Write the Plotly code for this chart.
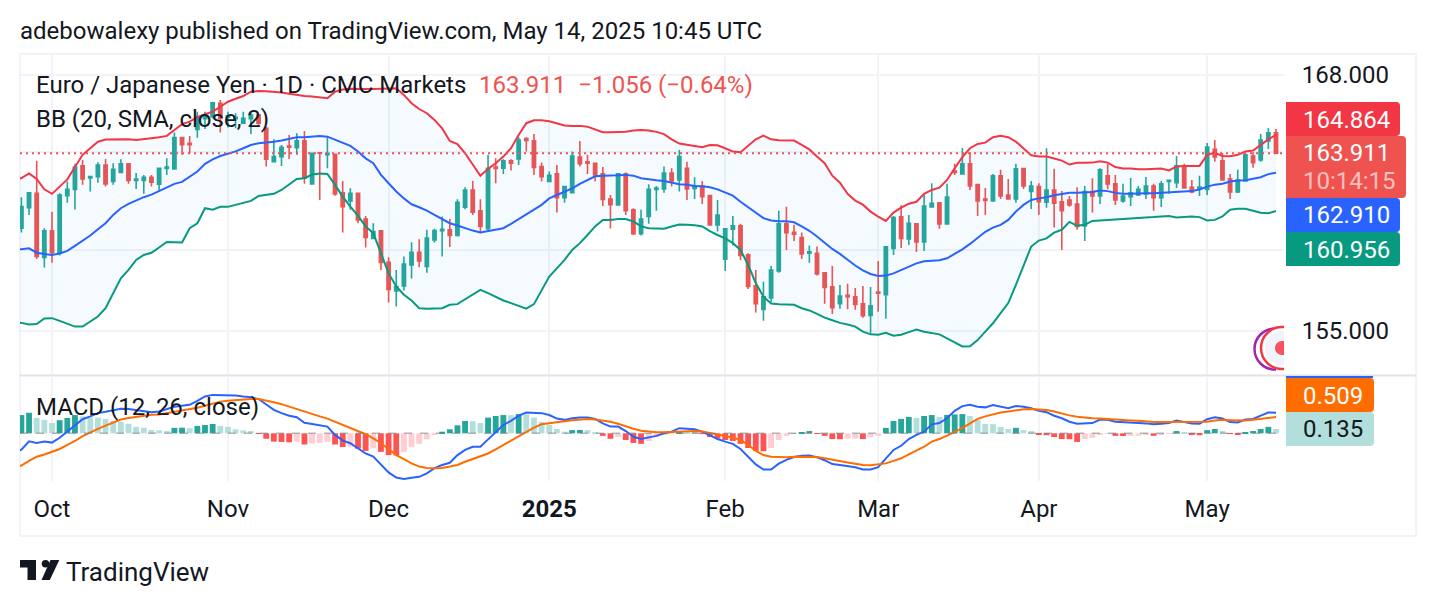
import math
import pandas as pd
import plotly.graph_objects as go

# EUR/JPY daily session dates (markets closed on 25 December)
dates = [d.strftime("%Y-%m-%d") for d in pd.bdate_range("2024-09-24", "2025-05-14") if d.strftime("%m-%d") != "12-25"]

opens = [159.60,160.09,161.13,161.86,158.62,159.96,158.83,161.74,162.06,163.26,
162.64,162.71,163.30,162.46,162.92,163.37,162.52,162.51,162.68,162.32,
163.13,163.11,164.72,164.43,165.15,165.71,165.81,166.51,165.78,165.71,
165.47,165.71,165.90,165.21,163.48,163.74,164.29,164.20,164.55,162.34,
163.94,163.84,163.86,161.89,161.47,161.86,160.55,159.58,159.96,158.38,
156.96,157.21,158.25,158.88,158.17,159.50,159.97,160.01,159.72,161.15,
162.03,160.97,160.06,163.20,163.14,163.52,163.62,164.67,164.55,163.23,
162.46,162.85,161.64,161.89,163.71,163.47,163.40,162.85,161.57,161.27,
162.85,161.02,159.81,160.68,162.06,162.08,162.89,162.54,163.14,162.10,
162.23,161.74,160.26,158.53,160.04,160.21,158.75,157.21,156.05,156.62,
157.95,160.31,159.89,159.62,158.83,158.83,157.86,157.16,156.33,156.75,
156.67,156.33,155.75,156.91,156.78,159.07,160.66,159.55,160.31,159.40,
161.16,161.37,160.31,163.00,162.85,163.37,162.30,161.57,161.47,162.75,
161.77,161.57,163.13,161.95,162.20,161.40,162.03,161.43,161.52,161.31,
160.21,161.95,161.72,162.75,162.34,161.47,161.69,161.77,161.83,162.23,
161.64,162.46,162.40,163.23,162.17,162.10,162.06,164.11,163.52,162.59,
161.93,162.49,163.77,163.57,164.55,164.967]

highs = [160.20,161.66,161.93,163.52,160.09,160.92,161.86,162.46,163.37,163.57,
162.76,163.45,163.62,163.40,163.60,163.40,162.89,162.80,162.80,163.18,
163.65,164.98,164.77,164.81,166.07,166.07,166.59,166.68,166.07,165.99,
166.07,165.99,165.94,165.29,164.63,164.34,164.86,164.95,165.07,163.94,
163.94,164.74,163.86,162.49,162.11,161.89,160.71,160.34,159.96,158.63,
158.00,158.67,159.39,159.53,160.01,160.06,160.68,160.55,161.55,162.17,
162.49,161.55,163.83,163.65,163.60,163.60,164.74,164.74,164.91,163.43,
162.97,163.31,162.23,164.00,164.55,163.83,163.40,163.20,161.77,162.89,
162.92,161.10,161.02,162.32,162.23,163.23,163.14,164.08,163.47,162.68,
162.49,161.77,161.52,160.09,160.71,160.31,158.83,158.00,157.42,158.20,
160.97,161.17,160.26,159.87,159.22,159.17,157.88,158.20,157.26,157.31,
157.11,157.21,157.16,158.45,159.20,160.71,161.25,160.76,160.34,161.77,
162.37,161.38,162.34,163.37,164.18,163.98,162.34,162.13,162.85,163.06,
162.59,163.37,163.16,162.49,162.37,164.17,163.11,161.98,161.72,162.17,
162.23,162.63,163.14,163.37,162.80,162.34,162.64,162.23,162.69,162.34,
162.49,162.52,163.77,163.37,162.54,162.75,164.44,164.60,163.93,162.85,
163.06,163.88,163.98,164.91,165.22,165.17]

lows = [159.30,159.87,160.76,158.55,158.12,158.36,158.72,161.38,161.03,162.29,
161.95,162.40,162.20,162.29,162.89,162.34,162.08,161.83,162.20,161.95,
162.80,163.06,163.83,163.91,164.72,165.17,165.73,164.98,165.24,165.21,
165.44,164.91,165.29,163.23,163.48,163.26,163.62,163.83,162.35,162.30,
161.52,163.14,161.74,159.87,161.02,160.34,159.12,159.53,158.00,156.39,
156.19,156.98,157.58,158.14,157.86,159.37,158.67,159.14,159.67,161.05,
160.76,159.84,159.92,162.37,162.85,163.02,163.31,164.00,162.80,162.46,
162.46,160.88,161.38,161.86,163.23,162.85,162.46,161.21,160.08,161.23,
160.76,159.75,159.72,160.31,160.97,161.89,162.20,161.95,161.52,161.57,
161.31,160.21,159.92,157.95,159.22,158.50,157.06,155.90,155.50,156.41,
157.86,159.00,159.45,158.55,158.36,157.72,156.33,155.83,156.08,156.06,
156.03,155.64,154.88,155.93,155.59,158.75,159.10,159.25,158.90,158.95,
161.16,160.06,160.31,162.80,162.85,162.03,160.71,160.76,161.47,161.57,
161.57,161.38,162.08,161.06,160.76,161.13,160.13,159.00,161.18,160.01,
159.45,160.88,161.31,162.06,161.27,161.38,161.21,161.72,161.57,160.97,
161.16,161.83,162.13,162.13,161.86,161.72,161.77,163.47,162.54,161.57,
161.88,162.46,163.16,163.47,164.13,163.90]

closes = [160.00,161.18,161.89,158.67,159.96,158.86,161.77,162.06,163.20,162.59,
162.71,163.30,162.34,163.09,163.37,162.51,162.59,162.68,162.42,163.14,
163.20,164.72,164.36,164.36,165.81,165.81,166.54,165.73,165.85,165.78,
165.73,165.90,165.47,163.60,163.74,164.22,164.22,164.55,162.63,163.91,
163.91,163.91,161.83,161.18,161.86,160.51,159.62,159.92,158.38,157.04,
157.18,158.30,158.88,158.45,159.60,159.97,160.04,159.72,161.40,162.03,
160.90,160.18,163.14,163.13,163.52,163.40,164.60,164.58,163.18,162.71,
162.78,161.64,162.20,163.77,163.37,163.40,162.80,161.55,161.28,162.85,
160.98,159.81,160.55,162.06,162.13,162.89,162.49,163.74,162.08,162.23,
161.69,160.26,160.76,160.06,160.21,158.72,157.18,156.33,156.67,158.00,
160.31,159.87,159.79,158.80,158.90,157.80,157.13,156.14,156.71,156.68,
156.30,155.74,156.23,156.85,159.15,160.63,159.57,160.34,159.40,161.21,
161.35,160.31,161.67,162.92,163.37,162.23,161.47,161.50,162.75,161.72,
161.57,163.11,162.23,162.23,161.43,162.03,161.35,160.98,161.27,160.18,
161.95,161.72,163.06,162.34,161.52,161.72,161.89,162.06,162.23,161.64,
162.34,162.52,163.26,162.13,161.93,162.18,164.23,163.72,162.54,161.93,
162.54,163.83,163.42,164.60,164.97,163.911]

# Bollinger Bands (20, SMA, close, 2)
bb_upper = [162.50,162.64,162.87,162.59,162.06,161.83,162.20,162.57,163.20,163.83,
164.17,164.51,164.62,164.63,164.65,164.63,164.60,164.63,164.69,164.74,
164.81,165.12,165.42,165.55,165.78,165.94,166.07,166.33,166.59,166.75,
166.89,167.12,167.15,167.14,167.12,167.08,167.01,166.93,166.89,166.86,
166.80,166.77,167.12,167.24,167.28,167.26,167.26,167.26,167.28,167.30,
167.30,166.95,166.51,166.21,165.99,165.64,165.20,164.55,164.39,163.91,
163.31,162.75,163.11,163.40,163.74,164.17,164.86,165.47,165.62,165.62,
165.57,165.47,165.35,165.33,165.33,165.29,165.15,165.00,165.00,165.00,
165.02,165.09,165.12,165.09,165.02,164.90,164.63,164.41,164.34,164.29,
164.22,164.34,164.32,164.17,164.00,163.96,164.30,164.63,164.82,164.63,
164.58,164.57,164.57,164.34,164.11,163.74,163.40,162.76,162.40,161.83,
161.49,161.28,160.93,160.68,160.46,160.88,161.13,161.33,161.43,161.83,
162.03,162.15,162.54,163.14,163.71,164.17,164.39,164.46,164.74,164.81,
164.74,164.51,164.17,163.81,163.74,163.74,163.64,163.53,163.33,163.42,
163.42,163.43,163.50,163.43,163.20,163.13,163.13,163.09,163.09,163.11,
163.13,163.03,163.23,163.26,163.26,163.26,163.83,163.94,163.77,163.76,
163.83,164.00,164.05,164.34,164.63,164.864]

bb_middle = [159.02,159.03,159.08,158.86,158.80,158.75,158.82,158.95,159.20,159.45,
159.72,160.04,160.34,160.76,161.10,161.32,161.50,161.66,161.79,161.98,
162.17,162.34,162.44,162.71,162.97,163.37,163.60,163.77,163.89,164.01,
164.17,164.34,164.43,164.46,164.51,164.57,164.67,164.74,164.74,164.77,
164.81,164.77,164.60,164.46,164.29,164.00,163.65,163.40,162.80,162.37,
161.95,161.60,161.30,161.15,160.98,160.76,160.56,160.34,160.23,160.09,
159.97,159.87,159.94,160.01,160.09,160.31,160.56,160.82,161.03,161.27,
161.60,161.77,161.95,162.11,162.34,162.52,162.73,162.76,162.76,162.78,
162.80,162.76,162.63,162.57,162.52,162.49,162.40,162.32,162.29,162.23,
162.22,162.17,162.06,161.89,161.74,161.43,161.15,160.85,160.60,160.48,
160.44,160.44,160.39,160.18,159.96,159.67,159.34,159.05,158.80,158.50,
158.22,157.98,157.80,157.70,157.72,157.83,158.00,158.20,158.33,158.43,
158.47,158.48,158.58,158.80,159.03,159.30,159.62,159.91,160.12,160.26,
160.51,160.93,161.27,161.52,161.60,161.66,161.76,161.83,161.89,161.89,
161.91,161.93,162.00,161.97,161.88,161.84,161.84,161.86,161.86,161.86,
161.88,161.89,161.93,161.95,161.97,162.05,162.20,162.30,162.35,162.46,
162.51,162.52,162.59,162.68,162.84,162.910]

bb_lower = [155.41,155.39,155.31,155.33,155.61,155.62,155.49,155.33,155.21,155.21,
155.46,155.70,156.11,156.85,157.59,158.00,158.50,158.75,158.86,159.12,
159.40,159.39,159.37,160.09,160.34,161.10,161.03,161.17,161.17,161.27,
161.38,161.47,161.72,161.77,161.83,162.03,162.29,162.59,162.63,162.82,
162.87,162.85,162.29,161.69,161.18,160.71,160.18,159.84,158.83,157.83,
157.18,156.77,156.49,156.11,156.08,156.08,156.11,156.28,156.31,156.55,
156.80,157.01,156.85,156.65,156.49,156.36,156.22,156.09,156.31,157.01,
157.67,158.08,158.50,159.00,159.34,159.75,160.18,160.51,160.51,160.55,
160.55,160.43,160.18,160.09,160.06,160.06,160.18,160.28,160.26,160.24,
160.18,159.94,159.75,159.58,159.34,159.00,158.25,157.34,156.68,156.34,
156.31,156.31,156.28,156.11,156.00,155.83,155.65,155.52,155.39,155.31,
155.21,154.96,154.83,154.81,154.91,154.76,154.81,154.94,155.06,154.96,
154.88,154.83,154.63,154.42,154.24,154.25,154.55,154.96,155.37,155.87,
156.36,157.26,158.17,159.17,159.47,159.58,159.87,160.01,160.41,160.21,
160.26,160.46,160.48,160.51,160.53,160.56,160.58,160.61,160.63,160.65,
160.68,160.71,160.63,160.66,160.68,160.65,160.48,160.51,160.68,161.02,
161.07,161.07,160.98,160.87,160.85,160.956]

# MACD (12, 26, close)
macd_line = [-0.60,-0.51,-0.25,-0.30,-0.26,-0.29,-0.14,0.05,0.24,0.44,
0.53,0.63,0.67,0.71,0.77,0.76,0.73,0.68,0.66,0.68,
0.75,0.83,0.86,0.89,1.01,1.15,1.20,1.20,1.20,1.18,
1.15,1.13,1.07,0.89,0.73,0.63,0.55,0.50,0.33,0.29,
0.26,0.21,-0.05,-0.23,-0.31,-0.47,-0.63,-0.73,-0.99,-1.22,
-1.38,-1.43,-1.39,-1.36,-1.25,-1.09,-0.99,-0.92,-0.68,-0.52,
-0.42,-0.42,-0.19,0.05,0.26,0.39,0.55,0.65,0.65,0.63,
0.57,0.46,0.42,0.47,0.49,0.49,0.45,0.31,0.21,0.21,
0.07,-0.11,-0.18,-0.14,-0.08,0.00,0.05,0.16,0.14,0.13,
0.05,-0.07,-0.18,-0.26,-0.33,-0.49,-0.73,-0.97,-1.13,-1.13,
-0.95,-0.83,-0.74,-0.70,-0.69,-0.75,-0.84,-0.96,-0.99,-1.02,
-1.06,-1.13,-1.13,-1.06,-0.78,-0.52,-0.39,-0.18,-0.05,0.05,
0.28,0.32,0.47,0.70,0.85,0.89,0.83,0.81,0.88,0.83,
0.78,0.85,0.83,0.78,0.70,0.66,0.55,0.47,0.36,0.30,
0.30,0.32,0.43,0.42,0.36,0.34,0.33,0.32,0.31,0.28,
0.30,0.32,0.40,0.35,0.31,0.30,0.44,0.50,0.46,0.35,
0.34,0.43,0.45,0.55,0.65,0.644]

macd_signal = [-1.05,-1.01,-0.86,-0.73,-0.66,-0.58,-0.49,-0.36,-0.24,-0.09,
0.03,0.14,0.24,0.33,0.43,0.48,0.52,0.56,0.58,0.59,
0.63,0.68,0.72,0.74,0.80,0.86,0.93,0.99,1.02,1.04,
1.06,1.07,1.07,1.03,0.97,0.91,0.83,0.75,0.68,0.59,
0.53,0.46,0.36,0.26,0.18,0.07,-0.03,-0.16,-0.31,-0.49,
-0.68,-0.81,-0.94,-1.04,-1.08,-1.09,-1.08,-1.04,-0.99,-0.89,
-0.80,-0.73,-0.63,-0.50,-0.36,-0.23,-0.10,0.05,0.18,0.28,
0.32,0.35,0.38,0.41,0.43,0.45,0.43,0.40,0.36,0.30,
0.21,0.14,0.08,0.05,0.03,0.03,0.04,0.06,0.07,0.07,
0.06,0.01,-0.03,-0.07,-0.13,-0.21,-0.36,-0.55,-0.68,-0.73,
-0.74,-0.75,-0.73,-0.73,-0.72,-0.74,-0.78,-0.83,-0.88,-0.91,
-0.95,-0.99,-1.00,-0.97,-0.94,-0.86,-0.78,-0.66,-0.55,-0.42,
-0.26,-0.18,-0.07,0.04,0.16,0.31,0.45,0.53,0.59,0.65,
0.68,0.72,0.75,0.76,0.75,0.73,0.68,0.61,0.56,0.52,
0.49,0.47,0.46,0.44,0.43,0.41,0.40,0.39,0.36,0.35,
0.35,0.35,0.35,0.35,0.35,0.34,0.36,0.40,0.42,0.41,
0.40,0.40,0.42,0.45,0.48,0.509]

macd_hist = [0.50,0.57,0.64,0.48,0.42,0.32,0.41,0.48,0.57,0.53,
0.50,0.49,0.45,0.38,0.36,0.30,0.20,0.17,0.10,0.09,
0.07,0.17,0.175,0.16,0.23,0.26,0.29,0.23,0.20,0.125,
0.09,0.07,-0.02,-0.17,-0.26,-0.27,-0.28,-0.26,-0.35,-0.32,
-0.30,-0.27,-0.35,-0.43,-0.42,-0.48,-0.55,-0.47,-0.58,-0.68,
-0.69,-0.58,-0.43,-0.33,-0.19,-0.05,0.05,0.125,0.25,0.385,
0.38,0.32,0.49,0.54,0.57,0.565,0.60,0.59,0.49,0.36,
0.26,0.135,0.05,0.10,0.105,0.10,0.03,-0.08,-0.17,-0.11,
-0.21,-0.30,-0.33,-0.24,-0.11,-0.05,-0.02,0.03,0.02,0.01,
-0.01,-0.115,-0.16,-0.21,-0.24,-0.33,-0.46,-0.55,-0.56,-0.46,
-0.21,-0.08,-0.01,0.03,0.07,-0.02,-0.08,-0.18,-0.185,-0.17,
-0.165,-0.18,-0.13,-0.08,0.17,0.385,0.45,0.51,0.48,0.54,
0.57,0.51,0.575,0.59,0.60,0.54,0.42,0.29,0.285,0.20,
0.135,0.17,0.10,0.07,-0.03,-0.06,-0.115,-0.18,-0.185,-0.27,
-0.18,-0.145,-0.03,-0.01,-0.08,-0.085,-0.08,-0.075,-0.05,-0.08,
-0.05,-0.01,0.07,0.04,-0.03,-0.06,0.10,0.135,0.07,-0.02,
-0.05,0.03,0.07,0.135,0.20,0.135]

month_dates = ["2024-10-01","2024-11-01","2024-12-02","2025-01-01","2025-02-03","2025-03-03","2025-04-01","2025-05-01"]
month_labels = ["Oct","Nov","Dec","<b>2025</b>","Feb","Mar","Apr","May"]
price_ticks = [168, 164, 159, 155]
price_tick_labels = ["168.000", "", "", "155.000"]

for series in (opens, highs, lows, closes, bb_upper, bb_middle, bb_lower, macd_line, macd_signal, macd_hist):
    assert len(series) == len(dates), len(series)

W, H = 1436, 606
FONT = "Roboto"
INK = "#131722"
GRID = "#F2F3F6"
UP, DOWN = "#26A69A", "#EF5350"


def px(x):
    return x / W


def py(y):
    return 1 - y / H


# Histogram shading follows sign and direction of the bar-to-bar change
hist_colors = []
for k, v in enumerate(macd_hist):
    prev = macd_hist[k - 1] if k else v
    if v >= 0:
        hist_colors.append("#26A69A" if v >= prev else "#B2DFDB")
    else:
        hist_colors.append("#FF5252" if v < prev else "#FFCDD2")

fig = go.Figure()
fig.add_trace(go.Candlestick(
    x=dates, open=opens, high=highs, low=lows, close=closes, xaxis="x", yaxis="y",
    increasing=dict(line=dict(color=UP, width=1.6), fillcolor=UP),
    decreasing=dict(line=dict(color=DOWN, width=1.6), fillcolor=DOWN),
    whiskerwidth=0, showlegend=False))
fig.add_trace(go.Scatter(x=dates, y=bb_upper, mode="lines", line=dict(color="#F23645", width=2), xaxis="x", yaxis="y", showlegend=False))
fig.add_trace(go.Scatter(x=dates, y=bb_lower, mode="lines", line=dict(color="#089981", width=2), fill="tonexty",
                         fillcolor="rgba(33,150,243,0.05)", xaxis="x", yaxis="y", showlegend=False))
fig.add_trace(go.Scatter(x=dates, y=bb_middle, mode="lines", line=dict(color="#2962FF", width=2), xaxis="x", yaxis="y", showlegend=False))

fig.add_trace(go.Bar(x=dates, y=macd_hist, marker=dict(color=hist_colors, line=dict(width=0)), width=0.76,
                     xaxis="x2", yaxis="y2", showlegend=False))
fig.add_trace(go.Scatter(x=dates, y=macd_line, mode="lines", line=dict(color="#2962FF", width=2), xaxis="x2", yaxis="y2", showlegend=False))
fig.add_trace(go.Scatter(x=dates, y=macd_signal, mode="lines", line=dict(color="#FF6D00", width=2), xaxis="x2", yaxis="y2", showlegend=False))

x_range = [(20 - 13.75) / 7.65, (1284 - 13.75) / 7.65]
common_x = dict(type="category", categoryorder="array", categoryarray=dates, range=x_range,
                domain=[px(20), px(1284)], tickmode="array", tickvals=month_dates,
                showgrid=True, gridcolor=GRID, gridwidth=2, zeroline=False, showline=False,
                automargin=False)

shapes = []


def rect_px(x0, y0, x1, y1, color, layer="above", line=None):
    shapes.append(dict(type="rect", xref="paper", yref="paper", x0=px(x0), x1=px(x1), y0=py(y0), y1=py(y1),
                       fillcolor=color, line=line or dict(width=0), layer=layer))


def badge(x0, y0, x1, y1, color, r=4):
    # Price-scale tag: square on the left, rounded on the right
    path = (f"M {px(x0)} {py(y0)} L {px(x1 - r)} {py(y0)} Q {px(x1)} {py(y0)} {px(x1)} {py(y0 + r)} "
            f"L {px(x1)} {py(y1 - r)} Q {px(x1)} {py(y1)} {px(x1 - r)} {py(y1)} L {px(x0)} {py(y1)} Z")
    shapes.append(dict(type="path", xref="paper", yref="paper", path=path, fillcolor=color, line=dict(width=0), layer="above"))


def circle_px(cx, cy, r, fill="#131722"):
    shapes.append(dict(type="circle", xref="paper", yref="paper", x0=px(cx - r), x1=px(cx + r), y0=py(cy - r), y1=py(cy + r),
                       fillcolor=fill, line=dict(width=0), layer="above"))


def left_disc(cx, cy, r, cut, fill="rgba(0,0,0,0)", stroke=None, w=0):
    # Left half of a disc, continued flat up to the price-scale edge
    k = 0.5523 * r
    path = (f"M {px(cut)} {py(cy - r)} L {px(cx)} {py(cy - r)} "
            f"C {px(cx - k)} {py(cy - r)} {px(cx - r)} {py(cy - k)} {px(cx - r)} {py(cy)} "
            f"C {px(cx - r)} {py(cy + k)} {px(cx - k)} {py(cy + r)} {px(cx)} {py(cy + r)} L {px(cut)} {py(cy + r)}")
    shapes.append(dict(type="path", xref="paper", yref="paper", path=path, fillcolor=fill,
                       line=dict(color=stroke or "rgba(0,0,0,0)", width=w), layer="above"))


# Chart frame and pane separator
rect_px(20, 54, 1416, 536, "rgba(0,0,0,0)", layer="below", line=dict(color="#F0F3FA", width=2))
rect_px(20, 374.5, 1416, 376.5, "#E0E3EB", layer="below")

# Last-price line and the MACD zero line
shapes.append(dict(type="line", xref="paper", yref="y", x0=px(20), x1=px(1284), y0=closes[-1], y1=closes[-1],
                   line=dict(color=DOWN, width=2, dash="2px,4px"), layer="above"))
shapes.append(dict(type="line", xref="paper", yref="y2", x0=px(20), x1=px(1284), y0=0, y1=0,
                   line=dict(color="rgba(120,123,134,0.55)", width=1.5, dash="8px,8px"), layer="above"))

# Live-session pulse marker, cut off by the price scale
left_disc(1275, 349, 20.5, 1276, stroke="#9C27B0", w=2.5)
left_disc(1282, 348, 21, 1284, fill="#FFFFFF", stroke="#F23645", w=2.5)
left_disc(1282, 348, 17, 1284, fill="#F0F3FA")
left_disc(1282, 348, 7, 1284, fill="#F7525F")

# Price-scale tags
badge(1286, 102, 1400, 136, "#F23645")
badge(1286, 198, 1400, 232, "#2962FF")
badge(1286, 232, 1400, 266, "#089981")
badge(1286, 136, 1406, 198, "#EF5350")
rect_px(1286, 376, 1373, 378, "#2962FF")
badge(1286, 378, 1374, 412, "#FF6D00")
badge(1286, 412, 1374, 446, "#B2DFDB")

# TradingView mark
shapes.append(dict(type="path", xref="paper", yref="paper", fillcolor="#131722", line=dict(width=0), layer="above",
                   path=f"M {px(20)} {py(560)} L {px(36)} {py(560)} L {px(36)} {py(580)} L {px(27.5)} {py(580)} L {px(27.5)} {py(567.5)} L {px(20)} {py(567.5)} Z"))
circle_px(45.5, 563.8, 3.8)
shapes.append(dict(type="path", xref="paper", yref="paper", fillcolor="#131722", line=dict(width=0), layer="above",
                   path=f"M {px(50.5)} {py(560)} L {px(59.3)} {py(560)} L {px(49.8)} {py(580)} L {px(41.5)} {py(580)} Z"))

annotations = []


def text_px(x, y, s, color=INK, size=24, anchor="left"):
    annotations.append(dict(xref="paper", yref="paper", x=px(x), y=py(y), text=s, showarrow=False, xanchor=anchor,
                            yanchor="middle", align="left", xshift=0, yshift=0, borderpad=0, borderwidth=0,
                            font=dict(family=FONT, size=size, color=color)))


text_px(20, 31, "adebowalexy published on TradingView.com, May 14, 2025 10:45 UTC", size=24)
text_px(36, 85, "Euro / Japanese Yen · 1D · CMC Markets", size=24)
text_px(479, 85, "163.911&nbsp;&nbsp;−1.056 (−0.64%)", color=DOWN, size=24)
text_px(36, 119, "BB (20, SMA, close, 2)", size=24)
text_px(36, 407, "MACD (12, 26, close)", size=24)
text_px(66, 572, "TradingView", color="#131722", size=26)

text_px(1303, 120, "164.864", color="#FFFFFF")
text_px(1303, 153, "163.911", color="#FFFFFF")
text_px(1303, 181, "10:14:15", color="rgba(255,255,255,0.65)")
text_px(1303, 215, "162.910", color="#FFFFFF")
text_px(1303, 250, "160.956", color="#FFFFFF")
text_px(1303, 396, "0.509", color="#FFFFFF")
text_px(1303, 429, "0.135", color="#131722")

fig.update_layout(
    width=W, height=H, margin=dict(l=0, r=0, t=0, b=0, pad=0), autosize=False,
    paper_bgcolor="#FFFFFF", plot_bgcolor="#FFFFFF", showlegend=False, bargap=0.24, boxgap=0.4,
    font=dict(family=FONT, color=INK, size=24),
    xaxis=dict(anchor="y", showticklabels=False, ticks="", rangeslider=dict(visible=False), **common_x),
    xaxis2=dict(anchor="y2", matches="x", ticktext=month_labels, ticks="outside", ticklen=6,
                tickcolor="rgba(0,0,0,0)", tickfont=dict(family=FONT, size=24, color=INK), **common_x),
    yaxis=dict(type="log", domain=[py(374), py(55)], range=[math.log10(152.91), math.log10(169.06)], side="right",
               anchor="x", tickmode="array", tickvals=price_ticks, ticktext=price_tick_labels,
               ticks="outside", ticklen=12, tickcolor="rgba(0,0,0,0)", tickfont=dict(family=FONT, size=24, color=INK),
               showgrid=True, gridcolor=GRID, gridwidth=2, zeroline=False, showline=False, automargin=False),
    yaxis2=dict(domain=[py(481), py(376)], range=[-1.49, 1.79], side="right", anchor="x2",
                showticklabels=False, showgrid=False, zeroline=False, showline=False, ticks="", automargin=False),
    shapes=shapes, annotations=annotations,
)

fig.write_html("out.html")
